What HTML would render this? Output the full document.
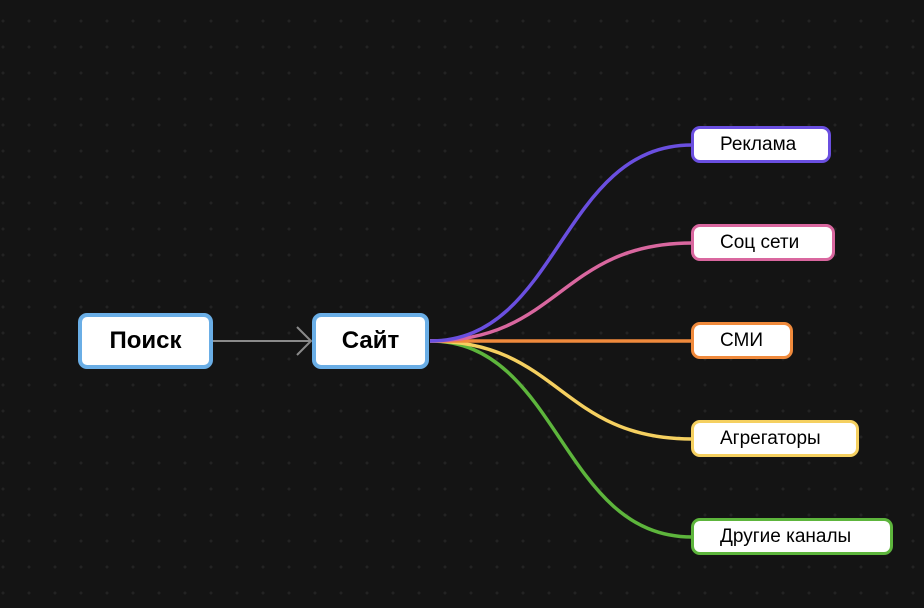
<!DOCTYPE html>
<html><head><meta charset="utf-8"><style>
html,body{margin:0;padding:0;width:924px;height:608px;overflow:hidden;background:#141414}
.b{position:absolute;box-sizing:border-box;background:#fff;border-radius:9px;font-family:"Liberation Sans",sans-serif;color:#000;display:flex;align-items:center}
.big{border:4px solid #6aaee6;font-weight:bold;font-size:24px;height:56px;top:313px;justify-content:center}
.sm{border:3px solid;font-size:19px;height:37px;left:691px;padding-left:26px}
</style></head><body>
<svg width="924" height="608" style="position:absolute;left:0;top:0">
<defs><pattern id="p" x="3" y="21" width="26" height="26" patternUnits="userSpaceOnUse"><circle cx="0" cy="0" r="1.5" fill="#232323"/><circle cx="26" cy="0" r="1.5" fill="#232323"/><circle cx="0" cy="26" r="1.5" fill="#232323"/><circle cx="26" cy="26" r="1.5" fill="#232323"/></pattern></defs>
<rect width="924" height="608" fill="url(#p)"/>
<line x1="213" y1="341" x2="310" y2="341" stroke="#8a8a8a" stroke-width="2"/>
<polyline points="297,327 311,341 297,355" fill="none" stroke="#8a8a8a" stroke-width="2"/>
<g fill="none" stroke-width="3.5">
<path d="M430 341 C560 341 560 537 692 537" stroke="#5db53c"/>
<path d="M430 341 C560 341 560 439 692 439" stroke="#f5d060"/>
<path d="M430 341 L692 341" stroke="#f08a3c"/>
<path d="M430 341 C560 341 560 243 692 243" stroke="#d9679f"/>
<path d="M430 341 C560 341 560 145 692 145" stroke="#6a4fe0"/>
</g>
</svg>
<div class="b big" style="left:78px;width:135px">Поиск</div>
<div class="b big" style="left:312px;width:117px">Сайт</div>
<div class="b sm" style="top:126px;width:140px;border-color:#6a4fe0">Реклама</div>
<div class="b sm" style="top:224px;width:144px;border-color:#d9679f">Соц сети</div>
<div class="b sm" style="top:322px;width:102px;border-color:#f08a3c">СМИ</div>
<div class="b sm" style="top:420px;width:168px;border-color:#f5d060">Агрегаторы</div>
<div class="b sm" style="top:518px;width:202px;border-color:#5db53c">Другие каналы</div>
</body></html>
